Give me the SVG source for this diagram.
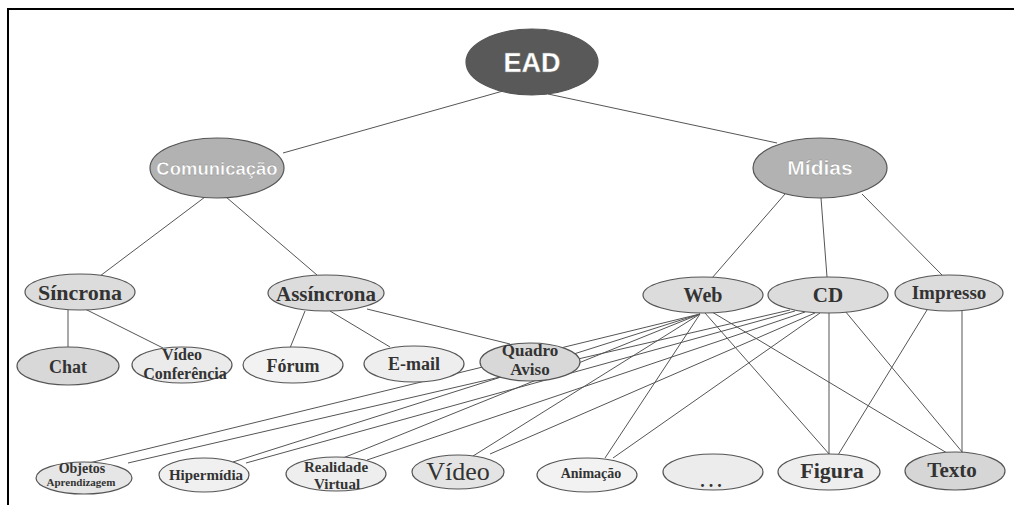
<svg xmlns="http://www.w3.org/2000/svg" width="1014" height="505" viewBox="0 0 1014 505">
<style>
.frame{stroke:#000;stroke-width:2;fill:none}
.c line{stroke:#555;stroke-width:1}
.n ellipse{stroke:#555;stroke-width:1.2}
.t{font-family:"Liberation Serif","Times New Roman",serif;font-weight:bold;fill:#333;text-anchor:middle}
.h{font-family:"Liberation Sans",Arial,sans-serif;font-weight:bold;fill:#fff;text-anchor:middle;stroke:#8a8a8a;stroke-width:0.3}
</style>
<rect width="1014" height="505" fill="#fff"/>
<path class="frame" d="M8 505 V9 H1014"/>
<g id="connectors" class="c">
<line x1="503" y1="91" x2="283" y2="153"/>
<line x1="548" y1="94" x2="777" y2="143"/>
<line x1="205" y1="197" x2="100" y2="276"/>
<line x1="226" y1="197" x2="317" y2="275"/>
<line x1="68" y1="310" x2="68" y2="348"/>
<line x1="85" y1="309" x2="163" y2="348"/>
<line x1="305" y1="311" x2="290" y2="348"/>
<line x1="330" y1="311" x2="390" y2="347"/>
<line x1="367" y1="309" x2="510" y2="344"/>
<line x1="785" y1="194" x2="712" y2="278"/>
<line x1="821" y1="198" x2="827" y2="277"/>
<line x1="862" y1="194" x2="943" y2="276"/>
<line x1="700" y1="314" x2="85" y2="464"/>
<line x1="700" y1="314" x2="233" y2="462"/>
<line x1="700" y1="314" x2="343" y2="458"/>
<line x1="700" y1="314" x2="473" y2="456"/>
<line x1="700" y1="314" x2="605" y2="458"/>
<line x1="705" y1="313" x2="830" y2="455"/>
<line x1="712" y1="312" x2="947" y2="453"/>
<line x1="790" y1="310" x2="128" y2="463"/>
<line x1="795" y1="311" x2="246" y2="463"/>
<line x1="805" y1="312" x2="367" y2="460"/>
<line x1="815" y1="313" x2="490" y2="454"/>
<line x1="820" y1="313" x2="613" y2="458"/>
<line x1="829" y1="313" x2="829" y2="454"/>
<line x1="845" y1="311" x2="963" y2="453"/>
<line x1="927" y1="310" x2="838" y2="455"/>
<line x1="962" y1="311" x2="962" y2="452"/>
</g>
<g id="ead" class="n"><ellipse cx="532" cy="62" rx="66" ry="33" fill="#595959"/><text class="h" x="532" y="72" font-size="27" stroke="none">EAD</text></g>
<g id="comunicacao" class="n"><ellipse cx="217" cy="168" rx="67" ry="30" fill="#b2b2b2"/><text class="h" x="217" y="175" font-size="18.5">Comunicação</text></g>
<g id="midias" class="n"><ellipse cx="820" cy="168" rx="67" ry="30" fill="#b2b2b2"/><text class="h" x="820" y="175" font-size="21">Mídias</text></g>
<g id="sincrona" class="n"><ellipse cx="80" cy="292" rx="55" ry="18" fill="#dcdcdc"/><text class="t" x="80" y="300" font-size="22">Síncrona</text></g>
<g id="assincrona" class="n"><ellipse cx="326" cy="293" rx="58" ry="18" fill="#dcdcdc"/><text class="t" x="326" y="301" font-size="21">Assíncrona</text></g>
<g id="web" class="n"><ellipse cx="703" cy="295" rx="60" ry="18" fill="#dcdcdc"/><text class="t" x="703" y="302" font-size="20">Web</text></g>
<g id="cd" class="n"><ellipse cx="828" cy="295" rx="60" ry="18" fill="#dcdcdc"/><text class="t" x="828" y="302" font-size="21">CD</text></g>
<g id="impresso" class="n"><ellipse cx="949" cy="293" rx="54" ry="18" fill="#dcdcdc"/><text class="t" x="949" y="299" font-size="19">Impresso</text></g>
<g id="chat" class="n"><ellipse cx="68" cy="366" rx="51" ry="19" fill="#d8d8d8"/><text class="t" x="68" y="373" font-size="18">Chat</text></g>
<g id="videoconf" class="n"><ellipse cx="182" cy="365" rx="50" ry="18" fill="#ebebeb"/><text class="t" x="182" y="360" font-size="16">Vídeo</text><text class="t" x="185" y="379" font-size="16">Conferência</text></g>
<g id="forum" class="n"><ellipse cx="293" cy="365" rx="50" ry="18" fill="#f2f2f2"/><text class="t" x="293" y="372" font-size="18">Fórum</text></g>
<g id="email" class="n"><ellipse cx="414" cy="364" rx="50" ry="18" fill="#eeeeee"/><text class="t" x="414" y="370" font-size="18">E-mail</text></g>
<g id="quadro" class="n"><ellipse cx="530" cy="362" rx="50" ry="19" fill="#d8d8d8"/><text class="t" x="530" y="356" font-size="17">Quadro</text><text class="t" x="530" y="375" font-size="17">Aviso</text></g>
<g id="objetos" class="n"><ellipse cx="84" cy="478" rx="48" ry="16" fill="#e6e6e6"/><text class="t" x="82" y="473" font-size="14">Objetos</text><text class="t" x="81" y="486" font-size="11">Aprendizagem</text></g>
<g id="hipermidia" class="n"><ellipse cx="204" cy="475" rx="45" ry="17" fill="#f0f0f0"/><text class="t" x="206" y="480" font-size="15">Hipermídia</text></g>
<g id="realidade" class="n"><ellipse cx="336" cy="474" rx="50" ry="17" fill="#eeeeee"/><text class="t" x="336" y="472" font-size="15">Realidade</text><text class="t" x="337" y="489" font-size="15">Virtual</text></g>
<g id="video" class="n"><ellipse cx="458" cy="472" rx="46" ry="17" fill="#e4e4e4"/><text class="t" x="458" y="480" font-size="26" style="font-weight:normal">Vídeo</text></g>
<g id="animacao" class="n"><ellipse cx="587" cy="475" rx="50" ry="17" fill="#f2f2f2"/><text class="t" x="591" y="478" font-size="14">Animação</text></g>
<g id="etc" class="n"><ellipse cx="713" cy="472" rx="50" ry="18" fill="#ececec"/><text class="t" x="713" y="487" font-size="18" letter-spacing="4">...</text></g>
<g id="figura" class="n"><ellipse cx="829" cy="472" rx="51" ry="18" fill="#eeeeee"/><text class="t" x="832" y="478" font-size="22">Figura</text></g>
<g id="texto" class="n"><ellipse cx="955" cy="471" rx="50" ry="19" fill="#d6d6d6"/><text class="t" x="952" y="477" font-size="21">Texto</text></g>
</svg>
